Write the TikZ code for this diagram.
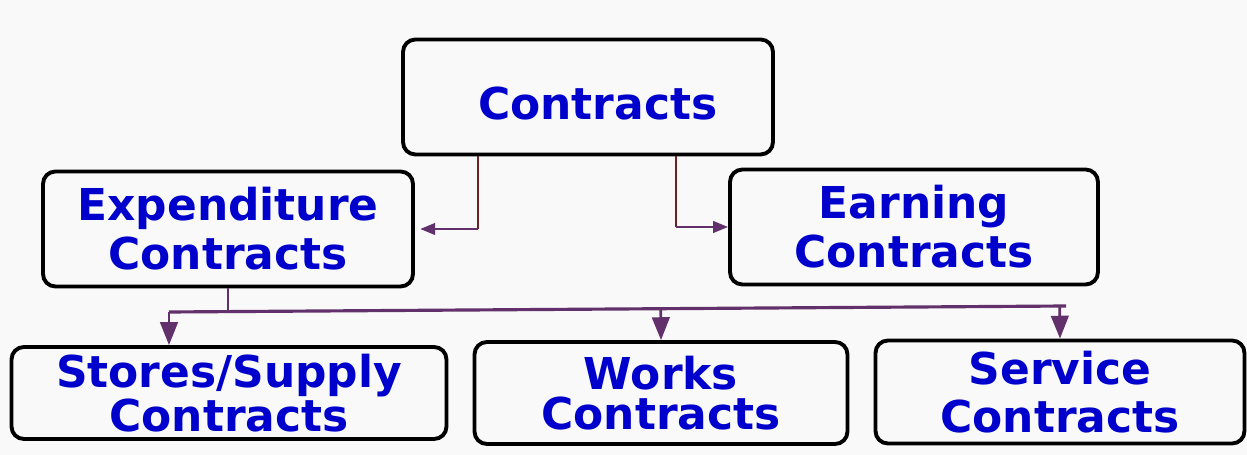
\documentclass[tikz,border=0pt]{standalone}
\usepackage{fontspec}
\setsansfont{DejaVu Sans}
\usetikzlibrary{arrows.meta,calc}

\definecolor{box text}{HTML}{0000CC}
\definecolor{link purple}{HTML}{62306A}
\definecolor{link brown}{HTML}{6B2222}
\definecolor{page}{HTML}{F9F9F9}
\tikzset{box/.style={draw=black, fill=page, line width=2.2pt, rounded corners=7pt,
        text=box text, align=center, font=\sffamily\bfseries\fontsize{25}{28}\selectfont},
    stem/.style={draw=link brown, line width=1.2pt},
    link/.style={draw=link purple, line width=1.5pt},
    tip/.style={link, -{Triangle[length=13pt,width=10pt]}},
    side tip/.style={link, -{Triangle[length=8.5pt,width=6.5pt]}}}

\begin{document}
\begin{tikzpicture}[x=0.02cm,y=-0.02cm]
     \fill[page] (0,0) rectangle (1247,455);
     \useasboundingbox (0,0) rectangle (1247,455);
     % boxes
     \node[box, minimum width=7.4cm, minimum height=2.3cm] (contracts) at (588,97) {\hspace*{11pt}\raisebox{-3.5pt}[\height][\depth]{Contracts}};
     \node[box, minimum width=7.4cm, minimum height=2.3cm] (expenditure) at (228,229) {Expenditure\\Contracts};
     \node[box, minimum width=7.36cm, minimum height=2.3cm] (earning) at (914,227) {Earning\\Contracts};
     \node[box, minimum width=8.7cm, minimum height=1.84cm,
         font=\sffamily\bfseries\fontsize{25}{21}\selectfont] (stores) at (229,393) {Stores/Supply\\Contracts};
     \node[box, minimum width=7.46cm, minimum height=2.04cm,
         font=\sffamily\bfseries\fontsize{25}{23}\selectfont] (works) at (661,393) {Works\\Contracts};
     \node[box, minimum width=7.38cm, minimum height=2.06cm,
         font=\sffamily\bfseries\fontsize{25}{27}\selectfont] (service) at (1060,392) {Service\\Contracts};
     % top links
     \coordinate (bendL) at ($(contracts.south)+(-110,0)$);
     \coordinate (bendR) at ($(contracts.south)+(88,0)$);
     \draw[stem] (bendL) -- (bendL |- expenditure.east);
     \draw[side tip, shorten >=3pt] (bendL |- expenditure.east) -- (expenditure.east);
     \draw[stem] (bendR) -- (bendR |- earning.west);
     \draw[side tip] (bendR |- earning.west) -- (earning.west);
     % bus to the lower row
     \coordinate (busL) at (169,312);
     \coordinate (busR) at (1066,306);
     \draw[link] (expenditure.south) -- (expenditure.south |- busL);
     \draw[link, line width=1.8pt] (busL) -- (busR);
     \draw[tip] (busL) -- (stores.north -| busL);
     \draw[tip] ($(busL)!(works.north)!(busR)$) -- (works.north);
     \draw[tip] ($(busL)!(service.north)!(busR)$) -- (service.north);
\end{tikzpicture}
\end{document}
